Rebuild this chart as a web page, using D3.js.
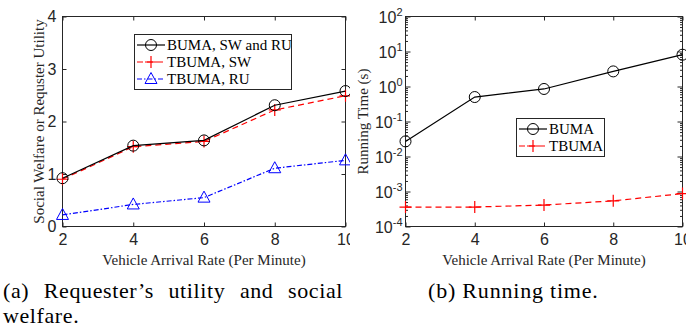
<!DOCTYPE html>
<html><head><meta charset="utf-8">
<script src="https://cdn.jsdelivr.net/npm/d3@7"></script>
<style>
html,body{margin:0;padding:0;background:#fff;}
svg{display:block;}
</style></head>
<body>
<svg id="c" width="686" height="328"></svg>
<script>
const xCats = [2, 4, 6, 8, 10];
const leftYTicks = [0, 1, 2, 3, 4];
const bumaSWRU = [0.92, 1.54, 1.64, 2.31, 2.58];
const tbumaSW = [0.90, 1.52, 1.62, 2.22, 2.49];
const tbumaRU = [0.22, 0.42, 0.55, 1.11, 1.26];
const rightYExps = [-4, -3, -2, -1, 0, 1, 2];
const bumaTime = [0.027, 0.50, 0.85, 2.7, 8.1];
const tbumaTime = [0.00036, 0.00036, 0.00041, 0.00054, 0.00087];
const leftLegend = ["BUMA, SW and RU", "TBUMA, SW", "TBUMA, RU"];
const rightLegend = ["BUMA", "TBUMA"];
const xLabel = "Vehicle Arrival Rate (Per Minute)";
const leftYLabel = "Social Welfare or Requster Utility";
const rightYLabel = "Running Time (s)";
const captionA = ["(a)", "Requester\u2019s", "utility", "and", "social"];
const captionA2 = "welfare.";
const captionB = "(b) Running time.";

const svg = d3.select("#c");
const serif = '"Liberation Serif","Times New Roman",serif';
const sans = '"Liberation Sans",Arial,sans-serif';
const axisCol = "#262626";

function marker(g, type, x, y, color) {
  if (type === "circle") {
    g.append("circle").attr("cx", x).attr("cy", y).attr("r", 5.5)
      .attr("fill", "none").attr("stroke", color).attr("stroke-width", 1);
  } else if (type === "plus") {
    g.append("path").attr("d", `M${x-6},${y}H${x+6}M${x},${y-6}V${y+6}`)
      .attr("stroke", color).attr("stroke-width", 1.2).attr("fill", "none");
  } else if (type === "tri") {
    g.append("path").attr("d", `M${x},${y-6.5}L${x+6},${y+4.5}L${x-6},${y+4.5}Z`)
      .attr("stroke", color).attr("stroke-width", 1).attr("fill", "none");
  }
}

function frame(g, L, R, T, B) {
  g.append("rect").attr("x", L).attr("y", T).attr("width", R - L).attr("height", B - T)
    .attr("fill", "none").attr("stroke", axisCol).attr("stroke-width", 1);
}

function styleAxis(a, withText) {
  a.select(".domain").remove();
  a.selectAll("line").attr("stroke", axisCol);
  if (withText) a.selectAll("text").attr("font-size", 16).attr("fill", axisCol).attr("font-family", sans);
}

// ---------- Left chart ----------
{
  const L = 62.5, R = 345.5, T = 16.5, B = 226.5;
  const clip = svg.append("defs").append("clipPath").attr("id", "clipL");
  clip.append("rect").attr("x", 0).attr("y", 0).attr("width", 350).attr("height", 275);
  const g = svg.append("g").attr("clip-path", "url(#clipL)");
  const x = d3.scaleLinear().domain([2, 10]).range([L, R]);
  const y = d3.scaleLinear().domain([0, 4]).range([B, T]);

  g.append("g").attr("transform", `translate(0,${B})`)
    .call(d3.axisBottom(x).tickValues(xCats).tickSizeInner(-4).tickSizeOuter(0).tickPadding(7).tickFormat(d3.format("d")))
    .call(a => styleAxis(a, true));
  g.append("g").attr("transform", `translate(0,${T})`)
    .call(d3.axisTop(x).tickValues(xCats).tickSizeInner(-4).tickSizeOuter(0).tickFormat(""))
    .call(a => styleAxis(a, false));
  g.append("g").attr("transform", `translate(${L},0)`)
    .call(d3.axisLeft(y).tickValues(leftYTicks).tickSizeInner(-4).tickSizeOuter(0).tickPadding(6).tickFormat(d3.format("d")))
    .call(a => styleAxis(a, true));
  g.append("g").attr("transform", `translate(${R},0)`)
    .call(d3.axisRight(y).tickValues(leftYTicks).tickSizeInner(-4).tickSizeOuter(0).tickFormat(""))
    .call(a => styleAxis(a, false));
  frame(g, L, R, T, B);

  const series = [
    {vals: bumaSWRU, color: "#000", dash: null, m: "circle"},
    {vals: tbumaSW, color: "#ff0000", dash: "6,4", m: "plus"},
    {vals: tbumaRU, color: "#0000ff", dash: "5,2,1.5,2", m: "tri"}
  ];
  const line = d3.line().x((d, i) => x(xCats[i])).y(d => y(d));
  series.slice().reverse().forEach(s => {
    g.append("path").datum(s.vals).attr("d", line).attr("fill", "none")
      .attr("stroke", s.color).attr("stroke-width", 1.2)
      .attr("stroke-dasharray", s.dash);
    s.vals.forEach((v, i) => marker(g, s.m, x(xCats[i]), y(v), s.color));
  });

  const lg = g.append("g");
  lg.append("rect").attr("x", 134.5).attr("y", 34.5).attr("width", 157).attr("height", 55)
    .attr("fill", "#fff").attr("stroke", axisCol).attr("stroke-width", 1);
  series.forEach((s, i) => {
    const yy = 45 + i * 17;
    lg.append("line").attr("x1", 137).attr("x2", 165).attr("y1", yy).attr("y2", yy)
      .attr("stroke", s.color).attr("stroke-width", 1.2).attr("stroke-dasharray", s.dash);
    marker(lg, s.m, 151, yy, s.color);
    lg.append("text").attr("x", 167).attr("y", yy + 5).text(leftLegend[i])
      .attr("font-family", serif).attr("font-size", 15).attr("fill", "#000");
  });

  g.append("text").attr("x", (L + R) / 2).attr("y", 265).attr("text-anchor", "middle")
    .attr("font-family", serif).attr("font-size", 15).attr("fill", axisCol).text(xLabel);
  g.append("text").attr("transform", `translate(44,${(T + B) / 2}) rotate(-90)`)
    .attr("text-anchor", "middle").attr("font-family", serif).attr("font-size", 15)
    .attr("fill", axisCol).text(leftYLabel);
}

// ---------- Right chart ----------
{
  const L = 405.5, R = 682.5, T = 16.5, B = 226.5;
  const g = svg.append("g");
  const x = d3.scaleLinear().domain([2, 10]).range([L, R]);
  const y = d3.scaleLog().domain([1e-4, 1e2]).range([B, T]);

  g.append("g").attr("transform", `translate(0,${B})`)
    .call(d3.axisBottom(x).tickValues(xCats).tickSizeInner(-4).tickSizeOuter(0).tickPadding(7).tickFormat(d3.format("d")))
    .call(a => styleAxis(a, true));
  g.append("g").attr("transform", `translate(0,${T})`)
    .call(d3.axisTop(x).tickValues(xCats).tickSizeInner(-4).tickSizeOuter(0).tickFormat(""))
    .call(a => styleAxis(a, false));

  const majors = rightYExps.map(e => Math.pow(10, e));
  const minors = [];
  rightYExps.slice(0, -1).forEach(e => { for (let k = 2; k <= 9; k++) minors.push(k * Math.pow(10, e)); });

  [[d3.axisLeft, L], [d3.axisRight, R]].forEach(([ax, pos]) => {
    g.append("g").attr("transform", `translate(${pos},0)`)
      .call(ax(y).tickValues(minors).tickSizeInner(-2.5).tickSizeOuter(0).tickFormat(""))
      .call(a => styleAxis(a, false));
    g.append("g").attr("transform", `translate(${pos},0)`)
      .call(ax(y).tickValues(majors).tickSizeInner(-5).tickSizeOuter(0).tickFormat(""))
      .call(a => styleAxis(a, false));
  });
  rightYExps.forEach(e => {
    const t = g.append("text").attr("x", L - 3).attr("y", y(Math.pow(10, e)) + 6)
      .attr("text-anchor", "end").attr("font-family", sans).attr("fill", axisCol);
    t.append("tspan").attr("font-size", 16).text("10");
    t.append("tspan").attr("font-size", 11).attr("dy", -7).text(String(e));
  });
  frame(g, L, R, T, B);

  const series = [
    {vals: bumaTime, color: "#000", dash: null, m: "circle"},
    {vals: tbumaTime, color: "#ff0000", dash: "6,4", m: "plus"}
  ];
  const line = d3.line().x((d, i) => x(xCats[i])).y(d => y(d));
  series.forEach(s => {
    g.append("path").datum(s.vals).attr("d", line).attr("fill", "none")
      .attr("stroke", s.color).attr("stroke-width", 1.2).attr("stroke-dasharray", s.dash);
    s.vals.forEach((v, i) => marker(g, s.m, x(xCats[i]), y(v), s.color));
  });

  const lg = g.append("g");
  lg.append("rect").attr("x", 516.5).attr("y", 118.5).attr("width", 88).attr("height", 38)
    .attr("fill", "#fff").attr("stroke", axisCol).attr("stroke-width", 1);
  series.forEach((s, i) => {
    const yy = 129 + i * 17;
    lg.append("line").attr("x1", 519).attr("x2", 547).attr("y1", yy).attr("y2", yy)
      .attr("stroke", s.color).attr("stroke-width", 1.2).attr("stroke-dasharray", s.dash);
    marker(lg, s.m, 533, yy, s.color);
    lg.append("text").attr("x", 549).attr("y", yy + 5).text(rightLegend[i])
      .attr("font-family", serif).attr("font-size", 15).attr("fill", "#000");
  });

  g.append("text").attr("x", (L + R) / 2).attr("y", 265).attr("text-anchor", "middle")
    .attr("font-family", serif).attr("font-size", 15).attr("fill", axisCol).text(xLabel);
  g.append("text").attr("transform", `translate(368,${(T + B) / 2}) rotate(-90)`)
    .attr("text-anchor", "middle").attr("font-family", serif).attr("font-size", 15)
    .attr("fill", axisCol).text(rightYLabel);
}

// ---------- Captions ----------
{
  const capFont = 22;
  const x0 = 3, x1 = 343, yA = 298;
  const words = captionA.map(w => svg.append("text").attr("y", yA).attr("font-family", serif)
    .attr("font-size", capFont).attr("letter-spacing", 0.6).attr("fill", "#000").text(w));
  const widths = words.map(w => w.node().getComputedTextLength());
  const total = widths.reduce((a, b) => a + b, 0);
  const gap = (x1 - x0 - total) / (words.length - 1);
  let cx = x0;
  words.forEach((w, i) => { w.attr("x", cx); cx += widths[i] + gap; });
  svg.append("text").attr("x", x0).attr("y", 323).attr("font-family", serif)
    .attr("font-size", capFont).attr("letter-spacing", 0.6).attr("fill", "#000").text(captionA2);
  svg.append("text").attr("x", 428).attr("y", yA).attr("font-family", serif)
    .attr("font-size", capFont).attr("letter-spacing", 0.8).attr("fill", "#000").text(captionB);
}
</script>
</body></html>
